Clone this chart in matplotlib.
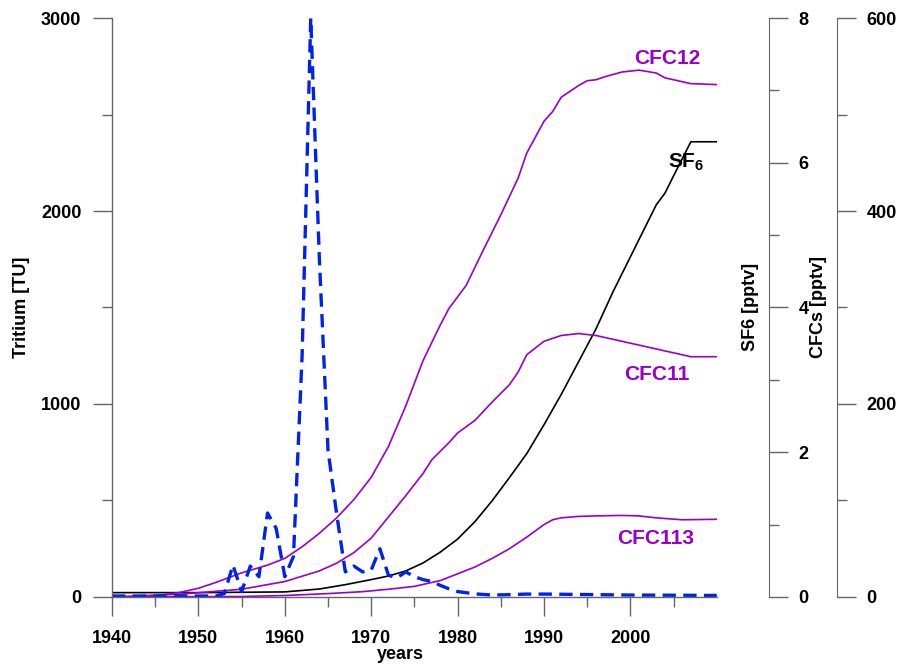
import matplotlib
matplotlib.use('Agg')
import matplotlib.pyplot as plt
from matplotlib.ticker import MultipleLocator, FixedLocator

plt.rcParams['font.family'] = ['Liberation Sans', 'DejaVu Sans']
plt.rcParams['font.weight'] = 'bold'
plt.rcParams['mathtext.fontset'] = 'custom'
plt.rcParams['mathtext.bf'] = 'Liberation Sans:bold'
plt.rcParams['mathtext.rm'] = 'Liberation Sans:bold'

# --- Tritium in precipitation [TU] ---
trit_years = [1940, 1950, 1952, 1953, 1954, 1955, 1956, 1957, 1958, 1959, 1960,
              1961, 1962, 1963, 1964, 1965, 1966, 1967, 1968, 1969, 1970, 1971,
              1972, 1973, 1974, 1975, 1976, 1977, 1978, 1979, 1980, 1982, 1984,
              1986, 1988, 1990, 1994, 2000, 2005, 2010]
tritium = [5, 5, 5, 18, 165, 28, 160, 105, 435, 355, 105,
           210, 1250, 3000, 1750, 760, 430, 130, 160, 130, 140, 250,
           112, 100, 130, 105, 90, 80, 60, 42, 28, 16, 10,
           12, 15, 15, 13, 10, 9, 8]

# --- CFC12 [pptv] ---
cfc12_years = [1940, 1945, 1948, 1950, 1952, 1955, 1958, 1960, 1962, 1964, 1966,
               1968, 1970, 1972, 1974, 1976, 1978, 1979, 1981, 1983, 1985, 1987,
               1988, 1990, 1991, 1992, 1994, 1995, 1996, 1997, 1999, 2001, 2003,
               2004, 2005, 2007, 2010]
cfc12 = [0, 1, 5, 9, 15, 25, 33, 40, 52, 66, 82,
         101, 124, 156, 198, 245, 282, 299, 323, 360, 396, 434,
         460, 493, 503, 518, 530, 535, 536, 539, 544, 546, 543,
         538, 536, 532, 531]

# --- CFC11 [pptv] ---
cfc11_years = [1940, 1948, 1955, 1960, 1964, 1966, 1968, 1970, 1972, 1974, 1976,
               1977, 1979, 1980, 1982, 1984, 1986, 1987, 1988, 1990, 1992, 1994,
               1996, 2000, 2002, 2005, 2007, 2010]
cfc11 = [0, 3, 8, 16, 27, 35, 46, 61, 83, 105, 128,
         142, 160, 170, 183, 202, 220, 233, 251, 265, 271, 273,
         271, 263, 259, 253, 249, 249]

# --- CFC113 [pptv] ---
cfc113_years = [1940, 1955, 1960, 1965, 1969, 1972, 1975, 1978, 1980, 1982, 1984,
                1986, 1987, 1988, 1990, 1991, 1992, 1994, 1996, 1999, 2001, 2003,
                2006, 2010]
cfc113 = [0, 0.5, 1.5, 3.5, 5.5, 8, 11, 17, 24, 31, 40,
          50, 56, 62, 75, 80, 82, 83.5, 84, 84.5, 84, 82,
          80, 80.5]

# --- SF6 [pptv] ---
sf6_years = [1940, 1950, 1955, 1960, 1964, 1967, 1970, 1972, 1974, 1976, 1978,
             1980, 1982, 1984, 1986, 1988, 1990, 1992, 1994, 1996, 1998, 2000,
             2002, 2003, 2004, 2005, 2007, 2010]
sf6 = [0.06, 0.06, 0.065, 0.07, 0.11, 0.17, 0.24, 0.29, 0.36, 0.47, 0.62,
       0.80, 1.04, 1.33, 1.65, 1.98, 2.38, 2.80, 3.25, 3.70, 4.22, 4.70,
       5.18, 5.42, 5.58, 5.82, 6.29, 6.29]

purple = '#9900cc'
blue = '#0022ee'
grey = '#666666'

fig = plt.figure(figsize=(8.97, 6.65), dpi=100)
ax = fig.add_axes([0.1249, 0.1023, 0.6742, 0.8706])
ax_sf6 = ax.twinx()
ax_cfc = ax.twinx()

# curves
ax_cfc.plot(cfc12_years, cfc12, color=purple, lw=1.2)
ax_cfc.plot(cfc11_years, cfc11, color=purple, lw=1.2)
ax_cfc.plot(cfc113_years, cfc113, color=purple, lw=1.2)
ax_sf6.plot(sf6_years, sf6, color='black', lw=1.2)
ax.plot(trit_years, tritium, color=blue, lw=2.4, ls=(0, (4, 2.2)))

# keep the tritium line on top
ax.set_zorder(ax_cfc.get_zorder() + 1)
ax.patch.set_visible(False)

# --- host axis: years / tritium ---
ax.set_xlim(1940, 2010)
ax.set_ylim(0, 3000)
ax.set_xticks(range(1940, 2001, 10))
ax.xaxis.set_minor_locator(FixedLocator(range(1945, 2006, 10)))
ax.yaxis.set_major_locator(MultipleLocator(1000))
ax.yaxis.set_minor_locator(MultipleLocator(500))
for s in ['top', 'right']:
    ax.spines[s].set_visible(False)
for s in ['left', 'bottom']:
    ax.spines[s].set_color(grey)
    ax.spines[s].set_linewidth(1.0)
ax.tick_params(which='major', direction='out', length=14, width=1, color=grey,
               labelsize=13, pad=8)
ax.tick_params(which='minor', direction='out', length=7, width=1, color=grey)
ax.tick_params(axis='x', which='major', pad=10)

# --- SF6 axis ---
ax_sf6.set_ylim(0, 8)
ax_sf6.spines['right'].set_position(('axes', 1.0865))
ax_sf6.yaxis.set_major_locator(MultipleLocator(2))
ax_sf6.yaxis.set_minor_locator(MultipleLocator(1))

# --- CFC axis ---
ax_cfc.set_ylim(0, 600)
ax_cfc.spines['right'].set_position(('axes', 1.199))
ax_cfc.yaxis.set_major_locator(MultipleLocator(200))
ax_cfc.yaxis.set_minor_locator(MultipleLocator(100))

for a in [ax_sf6, ax_cfc]:
    for s in ['top', 'left', 'bottom']:
        a.spines[s].set_visible(False)
    a.spines['right'].set_color(grey)
    a.tick_params(which='major', direction='out', length=14, width=1, color=grey,
                  labelsize=13, pad=7)
    a.tick_params(which='minor', direction='out', length=7, width=1, color=grey)

for lab in ax.get_xticklabels() + ax.get_yticklabels() + \
        ax_sf6.get_yticklabels() + ax_cfc.get_yticklabels():
    lab.set_fontweight('bold')

# axis titles
fig.text(22 / 897, 1 - 307 / 665, 'Tritium [TU]', rotation=90, ha='center',
         va='center', fontsize=13, fontweight='bold')
fig.text(400 / 897, 2 / 665, 'years', ha='center', va='bottom',
         fontsize=13, fontweight='bold')
fig.text(750 / 897, 1 - 307 / 665, 'SF6 [pptv]', rotation=90, ha='center',
         va='center', fontsize=13, fontweight='bold')
fig.text(818 / 897, 1 - 307 / 665, 'CFCs [pptv]', rotation=90, ha='center',
         va='center', fontsize=13, fontweight='bold')

# curve labels
fig.text(667 / 897, 1 - 58 / 665, 'CFC12', color=purple, ha='center',
         va='center', fontsize=15, fontweight='bold')
fig.text(657 / 897, 1 - 375 / 665, 'CFC11', color=purple, ha='center',
         va='center', fontsize=15, fontweight='bold')
fig.text(656 / 897, 1 - 538 / 665, 'CFC113', color=purple, ha='center',
         va='center', fontsize=15, fontweight='bold')
fig.text(686 / 897, 1 - 162 / 665, r'$\mathbf{SF_6}$', color='black',
         ha='center', va='center', fontsize=15)

fig.savefig('out.png', dpi=100)
